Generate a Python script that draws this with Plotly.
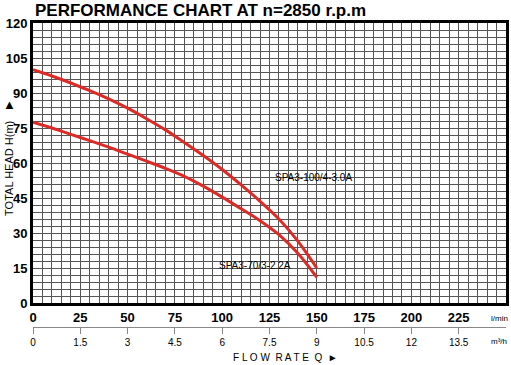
import plotly.graph_objects as go

# Data (flow in l/min, head in m)
flow = [0, 10, 20, 30, 40, 50, 60, 70, 80, 90, 100, 110, 120, 130, 140, 150]
head_100_4 = [100, 97.3, 94.3, 91, 87.5, 83.5, 79, 74.2, 68.8, 63.2, 57.2, 50.6, 43.6, 36.0, 26.5, 15]
head_70_3 = [77.5, 75, 72.3, 69.6, 66.8, 63.8, 60.8, 57.7, 54.3, 50.1, 45.4, 40.4, 35.3, 29.3, 21.3, 11]
names = ["SPA3-100/4-3.0A", "SPA3-70/3-2.2A"]
x_ticks_lmin = [0, 25, 50, 75, 100, 125, 150, 175, 200, 225]
x_ticks_m3h = [0, 1.5, 3, 4.5, 6, 7.5, 9, 10.5, 12, 13.5]
x_ticks_m3h_text = ["0", "1.5", "3", "4.5", "6", "7.5", "9", "10.5", "12", "13.5"]
y_ticks = [0, 15, 30, 45, 60, 75, 90, 105, 120]

RED = "#de2a26"
GRID = "#555555"

fig = go.Figure()
fig.add_trace(go.Scatter(x=flow, y=head_100_4, mode="lines", line=dict(color=RED, width=3, shape="spline", smoothing=0.8),
                         name=names[0], showlegend=False, hoverinfo="skip"))
fig.add_trace(go.Scatter(x=flow, y=head_70_3, mode="lines", line=dict(color=RED, width=3, shape="spline", smoothing=0.8),
                         name=names[1], showlegend=False, hoverinfo="skip"))
# dummy trace for second axis
fig.add_trace(go.Scatter(x=[0, 15], y=[0, 0], xaxis="x2", mode="lines", line=dict(width=0),
                         showlegend=False, hoverinfo="skip", opacity=0))

font_lbl = "Liberation Sans, Arial, sans-serif"

fig.update_layout(
    width=511, height=365,
    margin=dict(l=33, r=5, t=23, b=5, autoexpand=False),
    paper_bgcolor="white", plot_bgcolor="white",
    xaxis=dict(range=[0, 250], tickvals=x_ticks_lmin, ticktext=[str(v) for v in x_ticks_lmin],
               ticks="", showgrid=True, gridcolor=GRID, gridwidth=1, automargin=False,
               minor=dict(dtick=5, tick0=0, showgrid=True, gridcolor=GRID, gridwidth=1),
               showline=True, linecolor="black", linewidth=3, mirror=True, zeroline=False,
               tickfont=dict(family=font_lbl, size=13, color="black", weight="bold"),
               ticklabelstandoff=0, domain=[0, 1]),
    yaxis=dict(range=[0, 120], tickvals=y_ticks, ticks="", showgrid=True, gridcolor=GRID, gridwidth=1,
               minor=dict(dtick=3, tick0=0, showgrid=True, gridcolor=GRID, gridwidth=1),
               showline=True, linecolor="black", linewidth=3, mirror=True, zeroline=False,
               automargin=False,
               tickfont=dict(family=font_lbl, size=13, color="black", weight="bold"),
               domain=[0.169, 1]),
    xaxis2=dict(range=[0, 15], tickvals=x_ticks_m3h, ticktext=x_ticks_m3h_text, anchor="free",
                overlaying="x", position=0.098, side="bottom", showline=True, linecolor="#888888",
                linewidth=1, ticks="outside", ticklen=6, tickcolor="#888888", showgrid=False,
                automargin=False,
                zeroline=False, tickfont=dict(family=font_lbl, size=10, color="black")),
    annotations=[
        dict(text="<b>PERFORMANCE CHART AT n=2850 r.p.m</b>", xref="paper", yref="paper", x=0, y=1,
             xanchor="left", yanchor="bottom", yshift=1, showarrow=False,
             font=dict(family=font_lbl, size=17, color="black")),
        dict(text=names[0], x=127, y=54, xanchor="left", yanchor="middle", showarrow=False,
             font=dict(family=font_lbl, size=10, color="black")),
        dict(text=names[1], x=97.5, y=16.3, xanchor="left", yanchor="middle", showarrow=False,
             font=dict(family=font_lbl, size=10, color="black")),
        dict(text="TOTAL HEAD H(m)", xref="paper", yref="paper", x=0, xshift=-24, y=0.567,
             xanchor="center", yanchor="middle", textangle=-90, showarrow=False,
             font=dict(family=font_lbl, size=11, color="black")),
        dict(text="▲", xref="paper", yref="paper", x=0, xshift=-24, y=0.757,
             xanchor="center", yanchor="middle", showarrow=False,
             font=dict(family=font_lbl, size=13, color="black")),
        dict(text="l/min", xref="paper", yref="paper", x=0.964, y=0.169, yshift=-15, xanchor="left",
             yanchor="middle", showarrow=False, font=dict(family=font_lbl, size=8, color="black")),
        dict(text="m³/h", xref="paper", yref="paper", x=0.964, y=0.098, yshift=-15, xanchor="left",
             yanchor="middle", showarrow=False, font=dict(family=font_lbl, size=8, color="black")),
        dict(text="F L O W  R A T E  Q  ►", xref="paper", yref="paper", x=0.533, y=0, yshift=3,
             xanchor="center", yanchor="middle", showarrow=False,
             font=dict(family=font_lbl, size=10, color="black")),
    ],
)

fig.write_html("out.html", config={"displayModeBar": False},
               post_script="document.body.style.margin='0px';")
